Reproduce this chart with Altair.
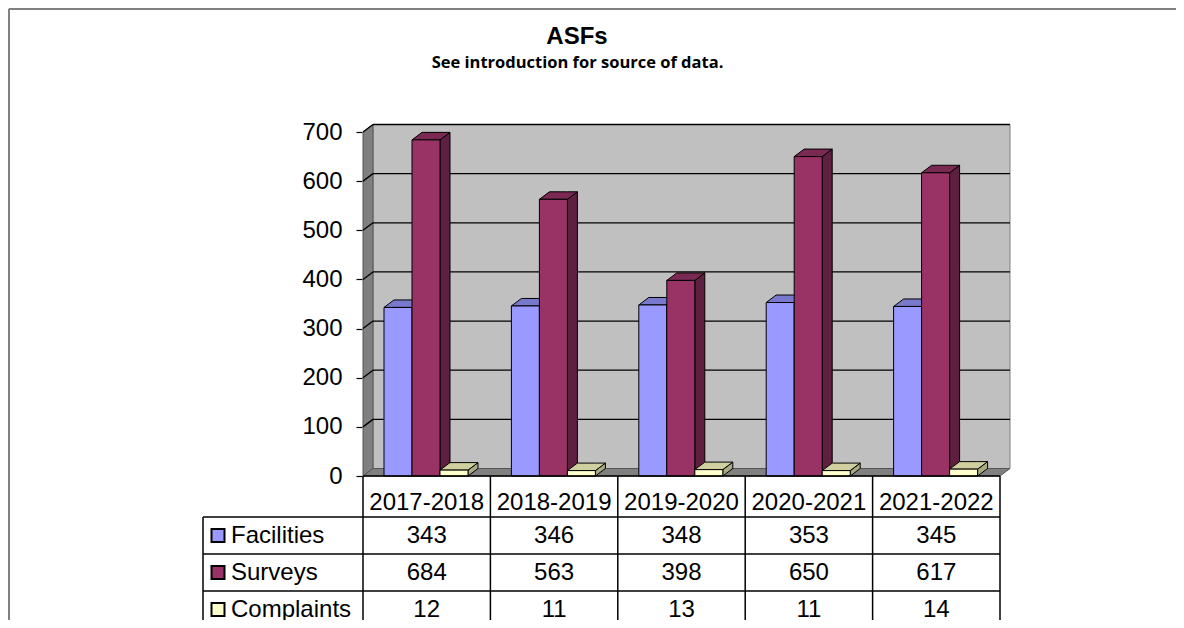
import altair as alt
import pandas as pd

# ---------------- data ----------------
years = ["2017-2018", "2018-2019", "2019-2020", "2020-2021", "2021-2022"]
series_names = ["Facilities", "Surveys", "Complaints"]
facilities = [343, 346, 348, 353, 345]
surveys = [684, 563, 398, 650, 617]
complaints = [12, 11, 13, 11, 14]
y_ticks = [0, 100, 200, 300, 400, 500, 600, 700]
title_text = "ASFs"
subtitle_text = "See introduction for source of data."

front_colors = ["#9999FF", "#993366", "#FFFFCC"]
top_colors = ["#7878CC", "#7A2952", "#CFCFA0"]
side_colors = ["#6262AA", "#5E1F40", "#A9A982"]

# ---------------- layout (styling constants) ----------------
PX_U = 127.4            # pixels per category
PX_V = 344 / 700        # pixels per value unit
GAP = 21 / PX_U
BW = 28 / PX_U
DU = 10 / PX_U          # 3D depth (x)
DV = 7.5 / PX_V         # 3D depth (y)
W, H = 1168, 612
X0_PAGE, Y0_PAGE = 363, 476   # page position of (0, 0)

x_dom = [-(X0_PAGE - 8) / PX_U, (8 + W - X0_PAGE) / PX_U]
y_dom = [-(8 + H - Y0_PAGE) / PX_V, (Y0_PAGE - 8) / PX_V]
xs = alt.Scale(domain=x_dom, nice=False, zero=False)
ys = alt.Scale(domain=y_dom, nice=False, zero=False)


def v_of(page_y):
    return (Y0_PAGE - page_y) / PX_V


def u_of(page_x):
    return (page_x - X0_PAGE) / PX_U


N = len(years)
values = [facilities, surveys, complaints]

# ---------------- geometry tables ----------------
fronts, polys = [], []
pid = 0
for i in range(N):
    for s in range(3):
        val = values[s][i]
        xl = i + GAP + s * BW
        xr = xl + BW
        fronts.append(dict(x=xl, x2=xr, y=0, y2=val, fill=front_colors[s]))
        polys.append(dict(pid=f"s{pid}", kind="side", x=xr, y=0, y2=val, fill=side_colors[s]))
        polys.append(dict(pid=f"s{pid}", kind="side", x=xr + DU, y=DV, y2=val + DV, fill=side_colors[s]))
        for (px, py, py2) in [(xl, val, val), (xl + DU, val, val + DV),
                              (xr, val, val + DV), (xr + DU, val + DV, val + DV)]:
            polys.append(dict(pid=f"t{pid}", kind="top", x=px, y=py, y2=py2, fill=top_colors[s]))
        pid += 1
fronts = pd.DataFrame(fronts)
polys = pd.DataFrame(polys)

ymax = max(y_ticks)
walls = pd.DataFrame([
    dict(pid="left", x=0, y=0, y2=ymax, fill="#808080"),
    dict(pid="left", x=DU, y=DV, y2=ymax + DV, fill="#808080"),
    dict(pid="floor", x=0, y=0, y2=0, fill="#808080"),
    dict(pid="floor", x=DU, y=0, y2=DV, fill="#808080"),
    dict(pid="floor", x=N, y=0, y2=DV, fill="#808080"),
    dict(pid="floor", x=N + DU, y=DV, y2=DV, fill="#808080"),
])
back = pd.DataFrame([dict(x=DU, x2=N + DU, y=DV, y2=ymax + DV)])

grid = pd.DataFrame(
    [dict(x=DU, x2=N + DU, y=g + DV, y2=g + DV) for g in y_ticks if g > 0]
    + [dict(x=0, x2=DU, y=g, y2=g + DV) for g in y_ticks if g > 0]
)

bottom_v = y_dom[0]
line_ys = [v_of(517), v_of(554), v_of(591)]
row_centers = [v_of(535.5), v_of(572.5), v_of(609.5)]
legend_left = u_of(203)
table_lines = pd.DataFrame(
    [dict(x=k, x2=k, y=0, y2=bottom_v) for k in range(N + 1)]
    + [dict(x=legend_left, x2=legend_left, y=line_ys[0], y2=bottom_v)]
    + [dict(x=legend_left, x2=N, y=ly, y2=ly) for ly in line_ys]
    + [dict(x=0, x2=N, y=0, y2=0)]
)
header = pd.DataFrame([dict(x=i + 0.5, y=v_of(503), t=years[i]) for i in range(N)])
cells = pd.DataFrame([dict(x=i + 0.5, y=row_centers[s], t=str(values[s][i]))
                      for s in range(3) for i in range(N)])
leg_keys = pd.DataFrame([dict(x=u_of(218), y=row_centers[s], fill=front_colors[s]) for s in range(3)])
leg_text = pd.DataFrame([dict(x=u_of(231), y=row_centers[s], t=series_names[s]) for s in range(3)])
titles = pd.DataFrame([dict(x=u_of(577), y=v_of(37), t=title_text)])
subtitles = pd.DataFrame([dict(x=u_of(577.5), y=v_of(62.5), t=subtitle_text)])

frame = pd.DataFrame([
    dict(x=u_of(9), x2=x_dom[1], y=v_of(9), y2=v_of(9)),
    dict(x=u_of(9), x2=u_of(9), y=v_of(9), y2=bottom_v),
])

FONT = "Liberation Sans"

y_axis = alt.Axis(values=y_ticks, offset=-354, tickSize=6, labelPadding=14, domain=False,
                  grid=False, labelFont=FONT, labelFontSize=24, labelColor="black",
                  tickColor="black", tickWidth=1.2, title=None)


def X(f="x"):
    return alt.X(f, type="quantitative", scale=xs, axis=None)


def Y(f="y"):
    return alt.Y(f, type="quantitative", scale=ys, axis=y_axis)


l_back = alt.Chart(back).mark_rect(fill="#C0C0C0", stroke="#808080", strokeWidth=1).encode(
    x=X(), x2="x2", y=Y(), y2="y2")
l_walls = alt.Chart(walls).mark_area(stroke="#555555", strokeWidth=1, interpolate="linear").encode(
    x=X(), y=Y(), y2="y2", fill=alt.Fill("fill:N", scale=None), detail="pid:N")
l_grid = alt.Chart(grid).mark_rule(color="black", strokeWidth=1.3).encode(
    x=X(), x2="x2", y=Y(), y2="y2")
l_side = alt.Chart(polys[polys.kind == "side"]).mark_area(
    stroke="black", strokeWidth=1, interpolate="linear").encode(
    x=X(), y=Y(), y2="y2", fill=alt.Fill("fill:N", scale=None), detail="pid:N")
l_top = alt.Chart(polys[polys.kind == "top"]).mark_area(
    stroke="black", strokeWidth=1, interpolate="linear").encode(
    x=X(), y=Y(), y2="y2", fill=alt.Fill("fill:N", scale=None), detail="pid:N")
l_front = alt.Chart(fronts).mark_rect(stroke="black", strokeWidth=1).encode(
    x=X(), x2="x2", y=Y(), y2="y2", fill=alt.Fill("fill:N", scale=None))
l_tlines = alt.Chart(table_lines).mark_rule(color="black", strokeWidth=1.5).encode(
    x=X(), x2="x2", y=Y(), y2="y2")
l_header = alt.Chart(header).mark_text(font=FONT, fontSize=24, color="black", baseline="middle").encode(
    x=X(), y=Y(), text="t:N")
l_cells = alt.Chart(cells).mark_text(font=FONT, fontSize=24, color="black", baseline="middle").encode(
    x=X(), y=Y(), text="t:N")
l_keys = alt.Chart(leg_keys).mark_square(size=169, stroke="black", strokeWidth=2, opacity=1).encode(
    x=X(), y=Y(), fill=alt.Fill("fill:N", scale=None))
l_ltext = alt.Chart(leg_text).mark_text(font=FONT, fontSize=24, color="black", align="left",
                                        baseline="middle").encode(x=X(), y=Y(), text="t:N")
l_title = alt.Chart(titles).mark_text(font=FONT, fontSize=24, fontWeight="bold", color="black",
                                      baseline="middle").encode(x=X(), y=Y(), text="t:N")
l_sub = alt.Chart(subtitles).mark_text(font="Open Sans", fontSize=16.5, fontWeight="bold", color="black",
                                       baseline="middle").encode(x=X(), y=Y(), text="t:N")
l_frame = alt.Chart(frame).mark_rule(color="#808080", strokeWidth=2).encode(
    x=X(), x2="x2", y=Y(), y2="y2")

chart = alt.layer(
    l_back, l_walls, l_grid, l_side, l_top, l_front, l_tlines,
    l_header, l_cells, l_keys, l_ltext, l_title, l_sub, l_frame
).properties(
    width=W, height=H, autosize="none", padding=0,
).configure_view(stroke=None).configure(background="white")

chart.save("out.html", embed_options={"renderer": "svg", "actions": False})
